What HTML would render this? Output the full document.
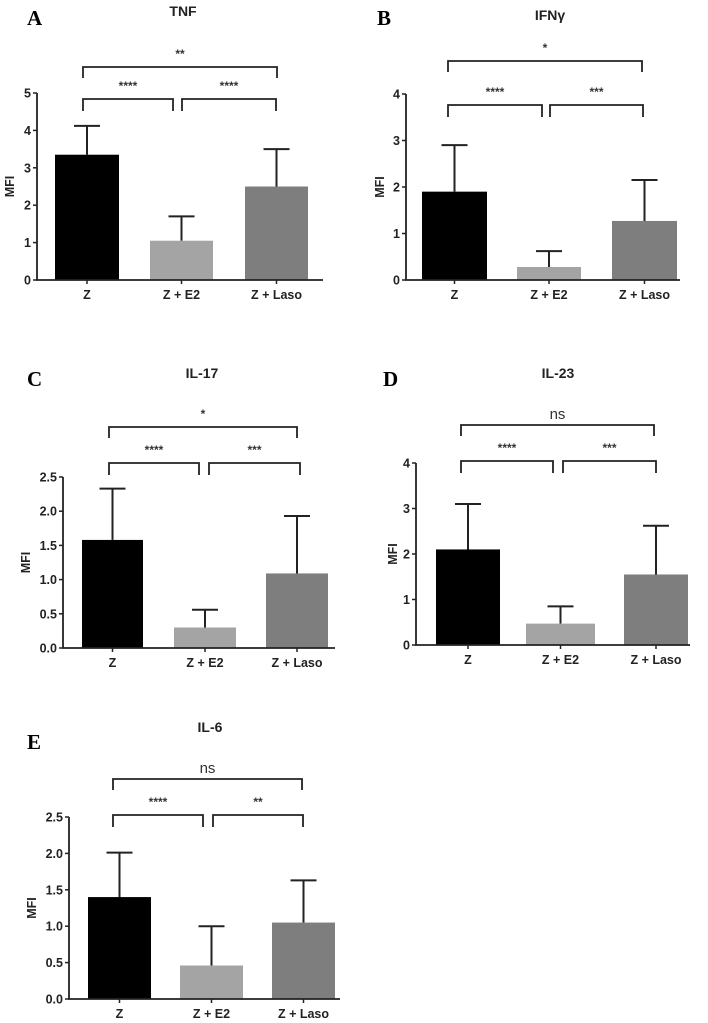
<!DOCTYPE html>
<html><head><meta charset="utf-8"><style>
body{margin:0;background:#fff;}
svg{display:block;font-family:"Liberation Sans",Arial,sans-serif;}
.t{font-weight:bold;font-size:12.5px;fill:#222;}
</style></head><body>
<svg id="fig" width="708" height="1023" viewBox="0 0 708 1023" xmlns="http://www.w3.org/2000/svg"></svg>
<script>
const categories = ["Z", "Z + E2", "Z + Laso"];
const tnfValues = [3.35, 1.05, 2.5];
const tnfErrTops = [4.12, 1.7, 3.5];
const ifngValues = [1.9, 0.28, 1.27];
const ifngErrTops = [2.9, 0.62, 2.15];
const il17Values = [1.58, 0.3, 1.09];
const il17ErrTops = [2.33, 0.56, 1.93];
const il23Values = [2.1, 0.47, 1.55];
const il23ErrTops = [3.1, 0.85, 2.62];
const il6Values = [1.4, 0.46, 1.05];
const il6ErrTops = [2.01, 1.0, 1.63];
const intTicks5 = ["0","1","2","3","4","5"];
const intTicks4 = ["0","1","2","3","4"];
const decTicks = ["0.0","0.5","1.0","1.5","2.0","2.5"];
const sigA = ["**","****","****"];
const sigB = ["*","****","***"];
const sigC = ["*","****","***"];
const sigD = ["ns","****","***"];
const sigE = ["ns","****","**"];

const colors = ["#000000","#a4a4a4","#7e7e7e"];
const NS = "http://www.w3.org/2000/svg";
const svg = document.getElementById("fig");
function mk(tag, attrs, parent, text){
  const e = document.createElementNS(NS, tag);
  for (const k in attrs) e.setAttribute(k, attrs[k]);
  if (text !== undefined) e.textContent = text;
  (parent || svg).appendChild(e);
  return e;
}
const panels = [
 {id:"a",letter:"A",lx:27,ly:25,title:"TNF",tx:183,ty:16,ax:37,y0:280,yTop:93,xEnd:323,bars:[[55,119],[150,213],[245,308]],vals:tnfValues,errs:tnfErrTops,ticks:intTicks5,max:5,sig:sigA,topY:67,topL:83,topR:277,lowY:99,l1:[83,173],l2:[182,276],mfx:10},
 {id:"b",letter:"B",lx:377,ly:25,title:"IFN\u03b3",tx:550,ty:20,ax:406,y0:280,yTop:94,xEnd:680,bars:[[422,487],[517,581],[612,677]],vals:ifngValues,errs:ifngErrTops,ticks:intTicks4,max:4,sig:sigB,topY:61,topL:448,topR:642,lowY:105,l1:[448,542],l2:[550,643],mfx:380},
 {id:"c",letter:"C",lx:27,ly:386,title:"IL-17",tx:202,ty:378,ax:63,y0:648,yTop:477,xEnd:335,bars:[[82,143],[174,236],[266,328]],vals:il17Values,errs:il17ErrTops,ticks:decTicks,max:2.5,sig:sigC,topY:427,topL:109,topR:297,lowY:463,l1:[109,199],l2:[209,300],mfx:26},
 {id:"d",letter:"D",lx:383,ly:386,title:"IL-23",tx:558,ty:378,ax:416,y0:645,yTop:463,xEnd:690,bars:[[436,500],[526,595],[624,688]],vals:il23Values,errs:il23ErrTops,ticks:intTicks4,max:4,sig:sigD,topY:425,topL:461,topR:654,lowY:461,l1:[461,553],l2:[563,656],mfx:393},
 {id:"e",letter:"E",lx:27,ly:749,title:"IL-6",tx:210,ty:732,ax:69,y0:999,yTop:817,xEnd:340,bars:[[88,151],[180,243],[272,335]],vals:il6Values,errs:il6ErrTops,ticks:decTicks,max:2.5,sig:sigE,topY:779,topL:113,topR:302,lowY:815,l1:[113,203],l2:[213,303],mfx:32}
];
panels.forEach(p=>{
  const g = mk("g",{});
  
  
  const yS = v => p.y0 - (v/p.max)*(p.y0-p.yTop);
  const L = mk("text",{x:p.lx,y:p.ly,"font-family":"Liberation Serif,serif","font-weight":"bold","font-size":"21"},g,p.letter);
  
  
  const T = mk("text",{x:p.tx,y:p.ty,"text-anchor":"middle","font-weight":"bold","font-size":"14",fill:"#222"},g,p.title);
  
  
  p.vals.forEach((v,i)=>{
    const [x1,x2] = p.bars[i];
    const cx = (x1+x2)/2;
    const et = yS(p.errs[i]);
    const eb = mk("path",{d:`M${cx} ${yS(v)}V${et}M${cx-13} ${et}H${cx+13}`,stroke:"#222","stroke-width":"2",fill:"none"},g);
    
    
    const r = mk("rect",{x:x1,y:yS(v),width:x2-x1,height:p.y0-yS(v),fill:colors[i]},g);
    
    
    const tk = mk("line",{x1:cx,x2:cx,y1:p.y0,y2:p.y0+4,stroke:"#222","stroke-width":"1.5"},g);
    
    
    const cl = mk("text",{x:cx,y:p.y0+19,"text-anchor":"middle",class:"t"},g,categories[i]);
    
    
  });
  const ax = mk("path",{d:`M${p.ax} ${p.yTop}V${p.y0}H${p.xEnd}`,stroke:"#222","stroke-width":"1.8",fill:"none"},g);
  
  
  p.ticks.forEach((t,i)=>{
    const y = yS(p.max*i/(p.ticks.length-1));
    mk("line",{x1:p.ax-4,x2:p.ax,y1:y,y2:y,stroke:"#222","stroke-width":"1.5"},g);
    const tl = mk("text",{x:p.ax-6,y:y+4.5,"text-anchor":"end",class:"t"},g,t);
    
    
  });
  const my = (p.y0+p.yTop)/2;
  const mf = mk("text",{x:p.mfx,y:my,"text-anchor":"middle",class:"t",transform:`rotate(-90 ${p.mfx} ${my})`,dy:"4"},g,"MFI");
  
  
  const br = (x1,x2,y,h,label)=>{
    const b = mk("path",{d:`M${x1} ${y+h}V${y}H${x2}V${y+h}`,stroke:"#222","stroke-width":"1.8",fill:"none"},g);
    
    
    const isNs = label==="ns";
    const s = mk("text",{x:(x1+x2)/2,y:isNs? y-6 : y-9,"text-anchor":"middle","font-size":isNs?"15":"12","font-weight":isNs?"normal":"bold",fill:"#333"},g,label);
    
    
  };
  br(p.topL,p.topR,p.topY,11,p.sig[0]);
  br(p.l1[0],p.l1[1],p.lowY,12,p.sig[1]);
  br(p.l2[0],p.l2[1],p.lowY,12,p.sig[2]);
});
</script>
</body></html>
